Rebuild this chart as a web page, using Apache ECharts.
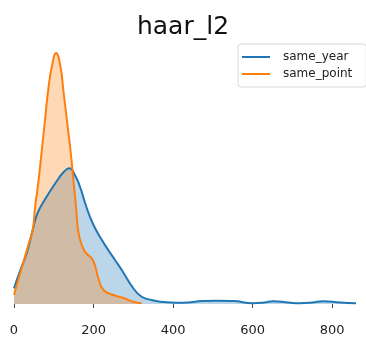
<!DOCTYPE html>
<html>
<head>
<meta charset="utf-8">
<script src="https://cdn.jsdelivr.net/npm/echarts@6/dist/echarts.min.js"></script>
<style>
  html, body { margin: 0; padding: 0; background: #fff; }
  #chart { width: 366px; height: 338px; }
</style>
</head>
<body>
<div id="chart"></div>
<script>
// Kernel density estimates of the haar_l2 distance
const sameYearX = [0, 15, 32, 47, 59, 80, 106, 125, 139, 153, 166, 179, 191, 204, 221, 237, 254, 271, 300, 321, 346, 384, 425, 475, 510, 551, 601, 630, 652, 690, 719, 750, 777, 820, 860];
const sameYearY = [0.00063, 0.00132, 0.00204, 0.00296, 0.00363, 0.00424, 0.00488, 0.00528, 0.00543, 0.00516, 0.00469, 0.00403, 0.00349, 0.00303, 0.00256, 0.00216, 0.00176, 0.00136, 0.00063, 0.00029, 0.00016, 0.00007, 0.00005, 0.00012, 0.00013, 0.00012, 0.00003, 0.00006, 0.00011, 0.00006, 0.00003, 0.00006, 0.00011, 0.00006, 0.00003];

const samePointX = [0, 12, 24, 36, 47, 53, 61, 70, 78, 86, 95, 106, 117, 124, 133, 142, 150, 156, 161, 168, 176, 186, 195, 204, 212, 225, 250, 275, 300, 321];
const samePointY = [0.00036, 0.00104, 0.00169, 0.00236, 0.00296, 0.00388, 0.00484, 0.00616, 0.00736, 0.00856, 0.00948, 0.01004, 0.00948, 0.00856, 0.00736, 0.00616, 0.00484, 0.00388, 0.00296, 0.00248, 0.00216, 0.00196, 0.00184, 0.00152, 0.00104, 0.00056, 0.00036, 0.00024, 0.00009, 0.00003];

const xTicks = [0, 200, 400, 600, 800];

const pairs = (xs, ys) => xs.map((x, i) => [x, ys[i]]);

const FONT = 'DejaVu Sans';
const chart = echarts.init(document.getElementById('chart'), null, { renderer: 'canvas' });

function kdeSeries(name, xs, ys, color) {
  return {
    name: name,
    type: 'line',
    data: pairs(xs, ys),
    smooth: 0.5,
    showSymbol: false,
    color: color,
    lineStyle: { color: color, width: 2 },
    itemStyle: { color: color },
    areaStyle: { color: color, opacity: 0.3 }
  };
}

chart.setOption({
  animation: false,
  backgroundColor: '#ffffff',
  title: {
    text: 'haar_l2',
    left: 'center',
    top: 10,
    textStyle: { fontFamily: FONT, fontSize: 25, fontWeight: 'normal', color: '#111' }
  },
  legend: {
    orient: 'vertical',
    left: 238,
    top: 44,
    padding: [6, 14, 6, 4],
    itemGap: 3,
    itemWidth: 28,
    itemHeight: 2,
    icon: 'rect',
    backgroundColor: '#fff',
    borderColor: '#d8d8d8',
    borderWidth: 1,
    borderRadius: 3,
    textStyle: { fontFamily: FONT, fontSize: 12, color: '#222', lineHeight: 14, padding: [0, 0, 0, 8] },
    data: ['same_year', 'same_point']
  },
  grid: { left: 14, right: 10, top: 40, bottom: 34 },
  xAxis: {
    type: 'value',
    min: 0,
    max: 860,
    interval: 200,
    offset: 12,
    splitLine: { show: false },
    axisLine: { show: false },
    axisTick: { show: true, length: 4, lineStyle: { color: '#444', width: 1 },
      customValues: xTicks },
    axisLabel: {
      margin: 8,
      fontFamily: FONT, fontSize: 13, color: '#222',
      customValues: xTicks,
      formatter: v => String(v)
    }
  },
  yAxis: {
    type: 'value',
    min: 0,
    max: 0.01056,
    show: false,
    splitLine: { show: false }
  },
  series: [
    kdeSeries('same_year', sameYearX, sameYearY, '#1f77b4'),
    kdeSeries('same_point', samePointX, samePointY, '#ff7f0e')
  ]
});
</script>
</body>
</html>
